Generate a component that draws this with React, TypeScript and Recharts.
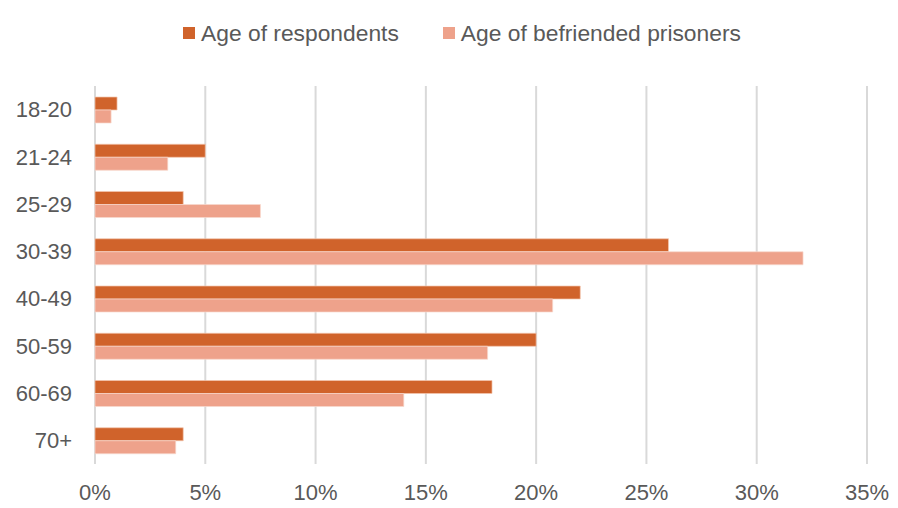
import React from "react";
import { BarChart, Bar, XAxis, YAxis, CartesianGrid, Legend } from "recharts";

const categories = ["18-20", "21-24", "25-29", "30-39", "40-49", "50-59", "60-69", "70+"];
const respondents = [1, 5, 4, 26, 22, 20, 18, 4];
const befriended = [0.73, 3.3, 7.5, 32.1, 20.75, 17.8, 14, 3.66];
const xTicks = [0, 5, 10, 15, 20, 25, 30, 35];
const seriesNames = ["Age of respondents", "Age of befriended prisoners"];
const colors = ["#D0632B", "#EEA28B"];

const data = categories.map((age, i) => ({
  age,
  respondents: respondents[i],
  befriended: befriended[i],
}));

const FONT = "'Liberation Sans', Arial, sans-serif";
const TEXT = "#595959";

const LegendContent = () => (
  <div style={{ display: "flex", justifyContent: "center", fontFamily: FONT, fontSize: 22.8, color: TEXT, height: 26, alignItems: "center", paddingLeft: 26, boxSizing: "border-box" }}>
    {seriesNames.map((n, i) => (
      <div key={n} style={{ display: "flex", alignItems: "center", marginLeft: i ? 44 : 0 }}>
        <span style={{ width: 12, height: 12, background: colors[i], display: "inline-block", marginRight: 6 }} />
        <span>{n}</span>
      </div>
    ))}
  </div>
);

export default function App() {
  return (
    <div style={{ position: "absolute", left: 0, top: 0, width: 898, height: 508, background: "#fff" }}>
      <BarChart
        width={898}
        height={508}
        data={data}
        layout="vertical"
        margin={{ top: 60, right: 31, bottom: 14, left: 0 }}
        barCategoryGap={11}
        barGap={0}
      >
        <CartesianGrid horizontal={false} stroke="#D9D9D9" strokeWidth={2} />
        <XAxis
          type="number"
          domain={[0, 35]}
          ticks={xTicks}
          tickFormatter={(v) => `${v}%`}
          axisLine={false}
          tickLine={false}
          tickSize={0}
          tickMargin={20}
          height={30}
          tick={{ fill: TEXT, fontSize: 22, fontFamily: FONT }}
          interval={0}
        />
        <YAxis
          type="category"
          dataKey="age"
          width={95}
          axisLine={false}
          tickLine={false}
          tickSize={0}
          tickMargin={23}
          tick={{ fill: TEXT, fontSize: 22, fontFamily: FONT }}
          interval={0}
        />
        <Legend verticalAlign="top" wrapperStyle={{ top: 20, left: 0, width: 898 }} content={<LegendContent />} />
        <Bar dataKey="respondents" name={seriesNames[0]} fill={colors[0]} stroke="#F3C7B0" strokeWidth={0.7} isAnimationActive={false} />
        <Bar dataKey="befriended" name={seriesNames[1]} fill={colors[1]} stroke="#F8D8CD" strokeWidth={0.7} isAnimationActive={false} />
      </BarChart>
    </div>
  );
}
